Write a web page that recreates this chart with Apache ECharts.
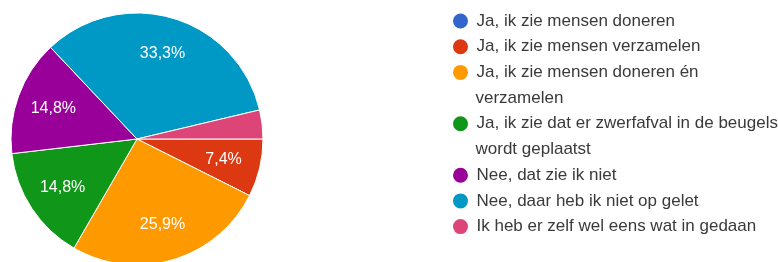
<!DOCTYPE html>
<html>
<head>
<meta charset="utf-8">
<script src="https://cdn.jsdelivr.net/npm/echarts@6/dist/echarts.min.js"></script>
<style>
html, body { margin: 0; padding: 0; background: #fff; }
#chart { width: 778px; height: 262px; }
</style>
</head>
<body>
<div id="chart"></div>
<script>
// antwoorden (27 reacties)
var categories = [
    "Ja, ik zie mensen doneren",
    "Ja, ik zie mensen verzamelen",
    "Ja, ik zie mensen doneren én verzamelen",
    "Ja, ik zie dat er zwerfafval in de beugels wordt geplaatst",
    "Nee, dat zie ik niet",
    "Nee, daar heb ik niet op gelet",
    "Ik heb er zelf wel eens wat in gedaan"
];
var counts = [0, 2, 7, 4, 4, 9, 1];
var colors = ["#3366cc", "#dc3912", "#ff9900", "#109618", "#990099", "#0099c6", "#dd4477"];

var myChart = echarts.init(document.getElementById('chart'));
var total = counts.reduce(function (a, b) { return a + b; }, 0);

var lineH = 25.7;
var wrapWidth = 310;
var ctx = document.createElement('canvas').getContext('2d');
ctx.font = '17px Arial';

// legend tekst op woorden afbreken
function wrap(text) {
    var words = text.split(' '), lines = [], cur = '';
    words.forEach(function (w) {
        var t = cur ? cur + ' ' + w : w;
        if (cur && ctx.measureText(t).width > wrapWidth) {
            lines.push(cur);
            cur = w;
        } else {
            cur = t;
        }
    });
    lines.push(cur);
    return lines;
}

// een legend per regel: bolletje alleen bij de eerste regel
var legends = [];
var lineNo = 0;
categories.forEach(function (name) {
    wrap(name).forEach(function (line, k) {
        var y = 21 + lineNo * lineH;
        legends.push({
            data: [name],
            orient: 'vertical',
            left: 451,
            top: y - lineH / 2,
            padding: 0,
            icon: k === 0 ? 'circle' : 'none',
            itemWidth: 17,
            itemHeight: 17,
            formatter: function () { return line; },
            textStyle: {
                fontFamily: 'Arial',
                fontSize: 17,
                color: '#3a3a3a',
                lineHeight: lineH,
                padding: [0, 0, 0, 2.5],
                backgroundColor: 'transparent'
            }
        });
        lineNo++;
    });
});

var pieData = categories.map(function (name, i) {
    return { name: name, value: counts[i] };
});

var option = {
    color: colors,
    animation: false,
    legend: legends,
    series: [
        {
            type: 'pie',
            radius: 126,
            center: [137, 139],
            startAngle: 0,
            clockwise: true,
            silent: true,
            data: pieData,
            itemStyle: { borderColor: '#fff', borderWidth: 1 },
            label: { show: false },
            labelLine: { show: false },
            emphasis: { disabled: true }
        },
        {
            // alleen voor de percentages, iets verder naar buiten
            type: 'pie',
            radius: [46, 126],
            center: [137, 139],
            startAngle: 0,
            clockwise: true,
            silent: true,
            data: pieData,
            itemStyle: { color: 'transparent' },
            label: {
                show: true,
                position: 'inside',
                color: '#fff',
                fontFamily: 'Arial',
                fontSize: 16,
                formatter: function (p) {
                    var pct = p.value / total * 100;
                    if (pct < 5) return '';
                    return pct.toFixed(1).replace('.', ',') + '%';
                }
            },
            labelLine: { show: false },
            emphasis: { disabled: true }
        }
    ]
};

myChart.setOption(option);
window.addEventListener('resize', function () {
    myChart.resize();
});
</script>
</body>
</html>
